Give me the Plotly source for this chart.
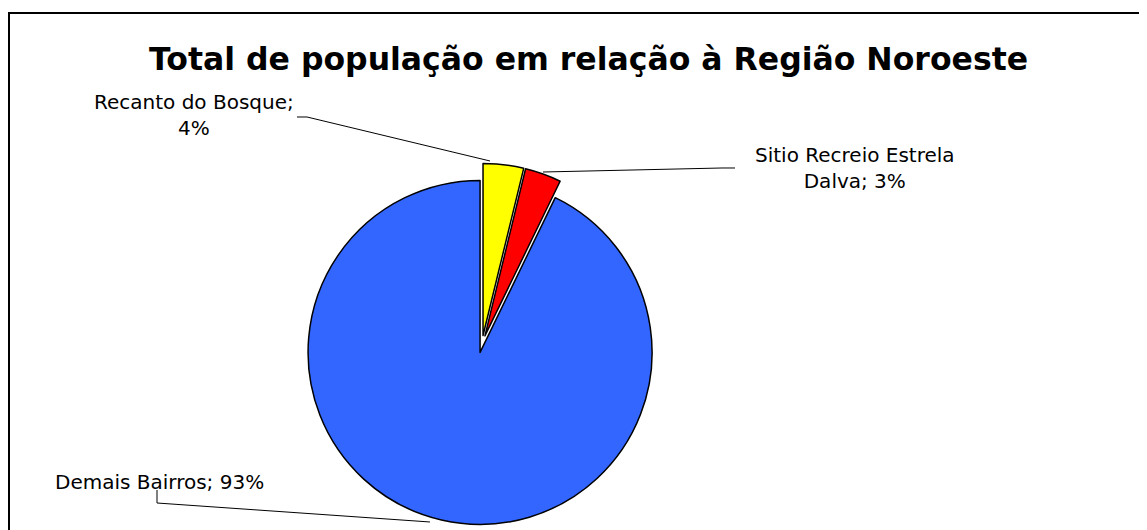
import textwrap
import plotly.graph_objects as go

# ---- data ----
categories = ["Recanto do Bosque", "Sitio Recreio Estrela Dalva", "Demais Bairros"]
values = [3.8, 3.4, 92.8]
colors = ["#FFFF00", "#FF0000", "#3366FF"]
title_text = "Total de população em relação à Região Noroeste"

OFF = 8  # page body margin
W, H = 1147 - OFF, 530 - OFF  # keep the figure inside the window

def px(x, y):
    return (x - OFF) / W, 1 - (y - OFF) / H

total = sum(values)
label_texts = [f"{c}; {round(v / total * 100)}%" for c, v in zip(categories, values)]
wrap_widths = [18, 21, 40]
label_texts = ["<br>".join(textwrap.wrap(t, w)) for t, w in zip(label_texts, wrap_widths)]

# label placement (pixel centers) and leader-line paths
label_pos = [(194, 115), (855, 168), (159, 482)]
leaders = [
    [(297, 117), (307, 117), (490, 161)],
    [(543, 172), (722, 168), (735, 168)],
    [(157, 490), (157, 503), (430, 522)],
]

# pie geometry (screen pixels): center, radius, pull
cx, cy, r, pull = 482, 344, 172, 0.05
half = r * (1 + pull)
dx0, dy0 = px(cx - 250, cy + half)
dx1, dy1 = px(cx + 250, cy - half)

fig = go.Figure()
fig.add_trace(go.Pie(
    labels=categories,
    values=values,
    sort=False,
    direction="clockwise",
    rotation=0,
    pull=[pull] * len(values),
    marker=dict(colors=colors, line=dict(color="#000000", width=1.5)),
    textinfo="none",
    hoverinfo="label+percent",
    showlegend=False,
    domain=dict(x=[dx0, dx1], y=[dy0, dy1]),
))

annotations = []
for t, (x, y) in zip(label_texts, label_pos):
    ax, ay = px(x, y)
    annotations.append(dict(
        text=t, x=ax, y=ay, xref="paper", yref="paper",
        xanchor="center", yanchor="middle", showarrow=False, align="center",
        font=dict(family="DejaVu Sans", size=20, color="#000000"),
    ))
tx, ty = px(588, 59)
annotations.append(dict(
    text="<b>" + title_text + "</b>", x=tx, y=ty, xref="paper", yref="paper",
    xanchor="center", yanchor="middle", showarrow=False,
    font=dict(family="DejaVu Sans", size=31.5, color="#000000"),
))

shapes = []
for pts in leaders:
    path = "M " + " L ".join(f"{px(x, y)[0]:.5f},{px(x, y)[1]:.5f}" for x, y in pts)
    shapes.append(dict(type="path", path=path, xref="paper", yref="paper",
                       line=dict(color="#000000", width=1)))
# chart-area frame (only top and left edges are visible in the window)
frame = [(9, 540), (9, 13), (1160, 13)]
fpath = "M " + " L ".join(f"{px(x, y)[0]:.5f},{px(x, y)[1]:.5f}" for x, y in frame)
shapes.append(dict(type="path", path=fpath, xref="paper", yref="paper",
                   line=dict(color="#000000", width=2)))

fig.update_layout(
    width=W, height=H,
    margin=dict(l=0, r=0, t=0, b=0),
    paper_bgcolor="#FFFFFF",
    plot_bgcolor="#FFFFFF",
    annotations=annotations,
    shapes=shapes,
)

fig.write_html(
    "out.html",
    post_script="document.documentElement.style.overflow='hidden';document.body.style.overflow='hidden';",
)
